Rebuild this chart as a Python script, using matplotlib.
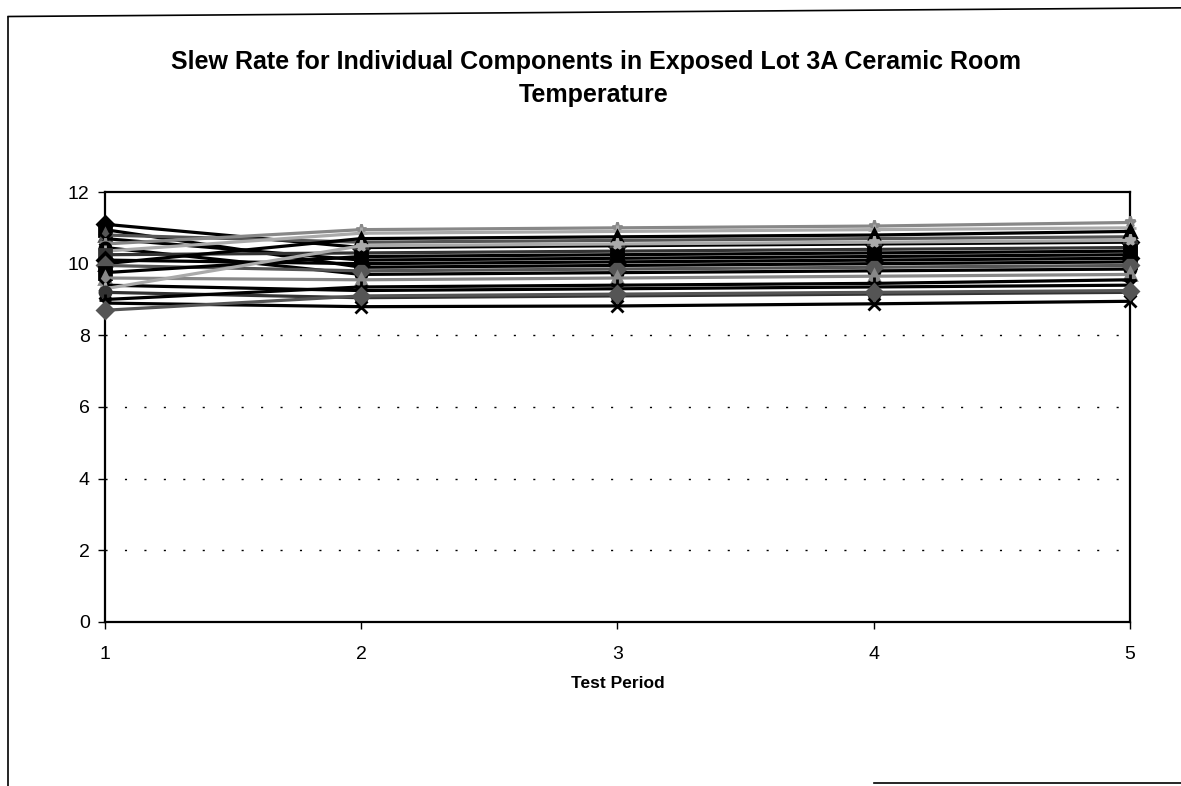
import matplotlib.pyplot as plt
from matplotlib.lines import Line2D

# test periods on the x axis
periods = [1, 2, 3, 4, 5]

# slew rate of each component (one list per part)
part01 = [11.10, 10.45, 10.50, 10.55, 10.60]
part02 = [10.95, 9.90, 9.95, 10.00, 10.05]
part03 = [10.80, 10.60, 10.65, 10.70, 10.75]
part04 = [10.70, 10.10, 10.15, 10.20, 10.25]
part05 = [10.55, 10.95, 11.00, 11.05, 11.15]
part06 = [10.45, 9.70, 9.75, 9.80, 9.85]
part07 = [10.35, 10.85, 10.90, 10.95, 11.00]
part08 = [10.25, 10.30, 10.35, 10.40, 10.45]
part09 = [10.10, 10.00, 10.05, 10.10, 10.15]
part10 = [10.00, 10.70, 10.75, 10.80, 10.90]
part11 = [9.95, 9.80, 9.85, 9.90, 9.95]
part12 = [9.75, 10.20, 10.25, 10.30, 10.35]
part13 = [9.60, 9.55, 9.60, 9.65, 9.70]
part14 = [9.40, 9.25, 9.30, 9.35, 9.40]
part15 = [9.30, 10.50, 10.55, 10.60, 10.65]
part16 = [9.20, 9.05, 9.10, 9.15, 9.20]
part17 = [9.00, 9.35, 9.40, 9.45, 9.55]
part18 = [8.90, 8.80, 8.82, 8.88, 8.95]
part19 = [8.70, 9.10, 9.15, 9.20, 9.25]

parts = [part01, part02, part03, part04, part05, part06, part07, part08, part09, part10,
         part11, part12, part13, part14, part15, part16, part17, part18, part19]

yticks = [0, 2, 4, 6, 8, 10, 12]

# excel style marker cycle, greys because it is a photocopy
markers = ["D", "s", "^", "x", "*", "o", "+", "s", "D", "^"]
colors = ["black", "black", "#555555", "black", "#888888", "black", "#aaaaaa", "#333333"]

plt.rcParams["font.family"] = ["Liberation Sans", "DejaVu Sans"]

fig = plt.figure(figsize=(11.81, 7.86), dpi=100)
ax = fig.add_axes([0.0889, 0.2087, 0.8679, 0.547])

for gy in [2, 4, 6, 8]:
    ax.axhline(gy, color="black", lw=1.0, linestyle=(0, (1.5, 12.5)), zorder=1)

for i, vals in enumerate(parts):
    c = colors[i % len(colors)]
    m = markers[i % len(markers)]
    if i == 17:
        # bottom part is the black asterisk in the scan
        c, m = "black", "x"
    ax.plot(periods, vals, color=c, lw=2.3, marker=m,
            markersize=8, markeredgewidth=2, markerfacecolor=c, markeredgecolor=c,
            clip_on=False, zorder=3)

ax.set_xlim(1, 5)
ax.set_ylim(0, 12)
ax.set_xticks(periods)
ax.set_yticks(yticks)
ax.tick_params(axis="both", direction="out", length=5, width=1, labelsize=14, colors="black")
ax.tick_params(axis="x", pad=12)
ax.tick_params(axis="y", pad=6)
for s in ax.spines.values():
    s.set_linewidth(1.6)
    s.set_color("black")

ax.set_xlabel("Test Period", fontsize=12.5, fontweight="bold", labelpad=10)

fig.text(0.505, 0.921, "Slew Rate for Individual Components in Exposed Lot 3A Ceramic Room",
         ha="center", va="center", fontsize=18, fontweight="bold")
fig.text(0.503, 0.879, "Temperature", ha="center", va="center", fontsize=18, fontweight="bold")

# outer frame of the scanned chart
fig.add_artist(Line2D([0.007, 0.007], [0.0, 0.979], color="black", lw=1.2))
fig.add_artist(Line2D([0.007, 1.0], [0.979, 0.99], color="black", lw=1.2))
fig.add_artist(Line2D([0.74, 1.0], [0.004, 0.004], color="black", lw=1.2))

fig.savefig("out.png", dpi=100)
